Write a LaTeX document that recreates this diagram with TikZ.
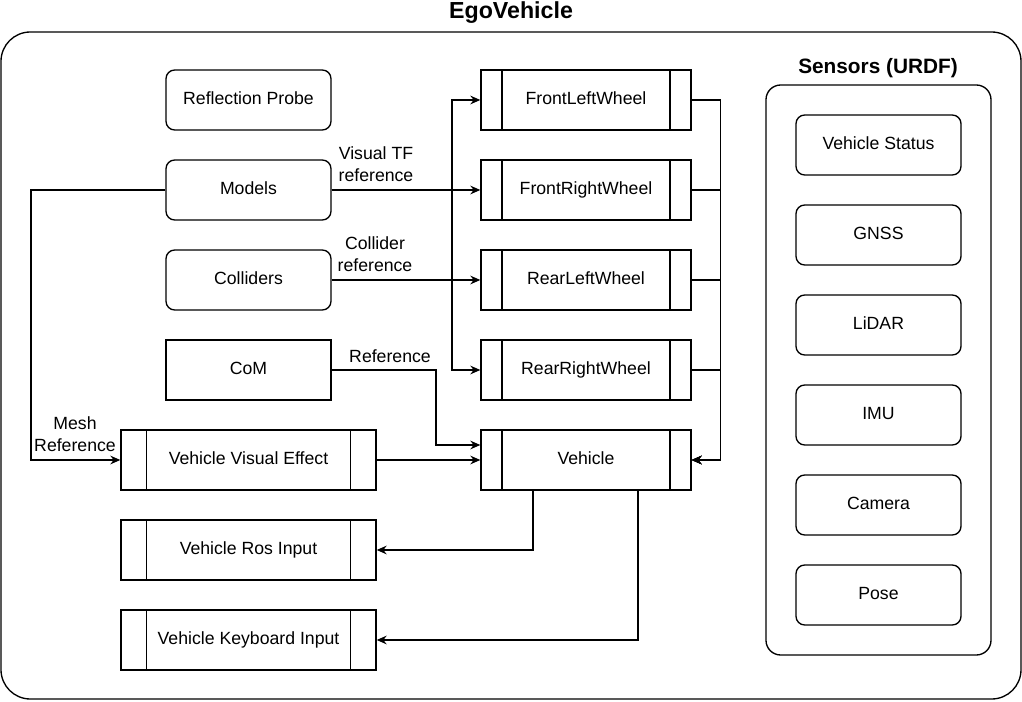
\documentclass[tikz,border=0pt]{standalone}
\usepackage{fontspec}
\setmainfont{Liberation Sans}
\usetikzlibrary{arrows.meta,calc}
\begin{document}
\begin{tikzpicture}[x=0.75pt,y=-0.75pt,
  every node/.style={font=\fontsize{13.25}{16.5}\selectfont, inner sep=0pt, align=center},
  boxtext/.style={text height=9.6pt, text depth=3pt},
  rbox/.style={draw, boxtext, line width=1pt, rounded corners=6.5pt, minimum width=123.75pt, minimum height=45pt},
  sbox/.style={draw, boxtext, line width=1pt, minimum width=123.75pt, minimum height=45pt},
  proc/.style={draw, boxtext, line width=1pt, minimum height=45pt,
    path picture={
      \draw[line width=1pt] ($(path picture bounding box.north west)!0.1!(path picture bounding box.north east)$) -- ($(path picture bounding box.south west)!0.1!(path picture bounding box.south east)$);
      \draw[line width=1pt] ($(path picture bounding box.north west)!0.9!(path picture bounding box.north east)$) -- ($(path picture bounding box.south west)!0.9!(path picture bounding box.south east)$);
    }},
  wheel/.style={proc, minimum width=157.5pt},
  wide/.style={proc, minimum width=191.25pt},
  arr/.style={line width=1pt, -{Stealth[length=7.5pt,width=6.5pt,inset=2.5pt]}},
  lbl/.style={fill=none},
]
\useasboundingbox (0,0) rectangle (1022,702);

% containers
\node (ego) [draw, line width=1pt, rounded corners=22pt, minimum width=765pt, minimum height=500.25pt] at (511,365.5) {};
\node (egot) [font=\bfseries\fontsize{17.4}{20}\selectfont] at (511,13) {EgoVehicle};
\node (sens) [draw, line width=1pt, rounded corners=11pt, minimum width=168.75pt, minimum height=427.5pt] at (878.5,370) {};
\node (senst) [font=\bfseries\fontsize{15.6}{18}\selectfont] at (878,68) {Sensors (URDF)};

% sensors
\node (vs)   [rbox] at (878.5,145) {Vehicle Status};
\node (gnss) [rbox] at (878.5,235) {GNSS};
\node (lid)  [rbox] at (878.5,325) {LiDAR};
\node (imu)  [rbox] at (878.5,415) {IMU};
\node (cam)  [rbox] at (878.5,505) {Camera};
\node (pose) [rbox] at (878.5,595) {Pose};

% left column
\node (rp)  [rbox] at (248.5,100) {Reflection Probe};
\node (mod) [rbox] at (248.5,190) {Models};
\node (col) [rbox] at (248.5,280) {Colliders};
\node (com) [sbox] at (248.5,370) {CoM};
\node (vve) [wide] at (248.5,460) {Vehicle Visual Effect};
\node (ros) [wide] at (248.5,550) {Vehicle Ros Input};
\node (kb)  [wide] at (248.5,640) {Vehicle Keyboard Input};

% wheels
\node (flw) [wheel] at (586,100) {FrontLeftWheel};
\node (frw) [wheel] at (586,190) {FrontRightWheel};
\node (rlw) [wheel] at (586,280) {RearLeftWheel};
\node (rrw) [wheel] at (586,370) {RearRightWheel};
\node (veh) [wheel] at (586,460) {Vehicle};

% junctions
\coordinate (j1) at (452,190);
\coordinate (jc) at (436,370);
\coordinate (jm) at (31,190);

% connectors
\draw[arr] (mod.east) -- (frw.west);
\draw[arr] (mod.east) -- (j1) |- (flw.west);
\draw[arr] (mod.east) -- (j1) |- (rrw.west);
\draw[arr] (col.east) -- (rlw.west);
\draw[arr] (com.east) -- (jc) |- ($(veh.west)+(0,-15)$);
\draw[arr] (vve.east) -- (veh.west);
\draw[arr] (mod.west) -- (jm) |- (vve.west);
\draw[arr] (flw.east) -- ++(29,0) |- (veh.east);
\draw[arr] (frw.east) -- ++(29,0) |- (veh.east);
\draw[arr] (rlw.east) -- ++(29,0) |- (veh.east);
\draw[arr] (rrw.east) -- ++(29,0) |- (veh.east);
\draw[arr] ($(veh.south)+(-53,0)$) |- (ros.east);
\draw[arr] ($(veh.south)+(52,0)$) |- (kb.east);

% labels
\node (l1) [lbl] at (376,164) {Visual TF\\reference};
\node (l2) [lbl] at (375,254) {Collider\\reference};
\node (l3) [lbl] at (390,356) {Reference};
\node (l4) [lbl] at (75,434) {Mesh\\Reference};
\end{tikzpicture}
\end{document}
